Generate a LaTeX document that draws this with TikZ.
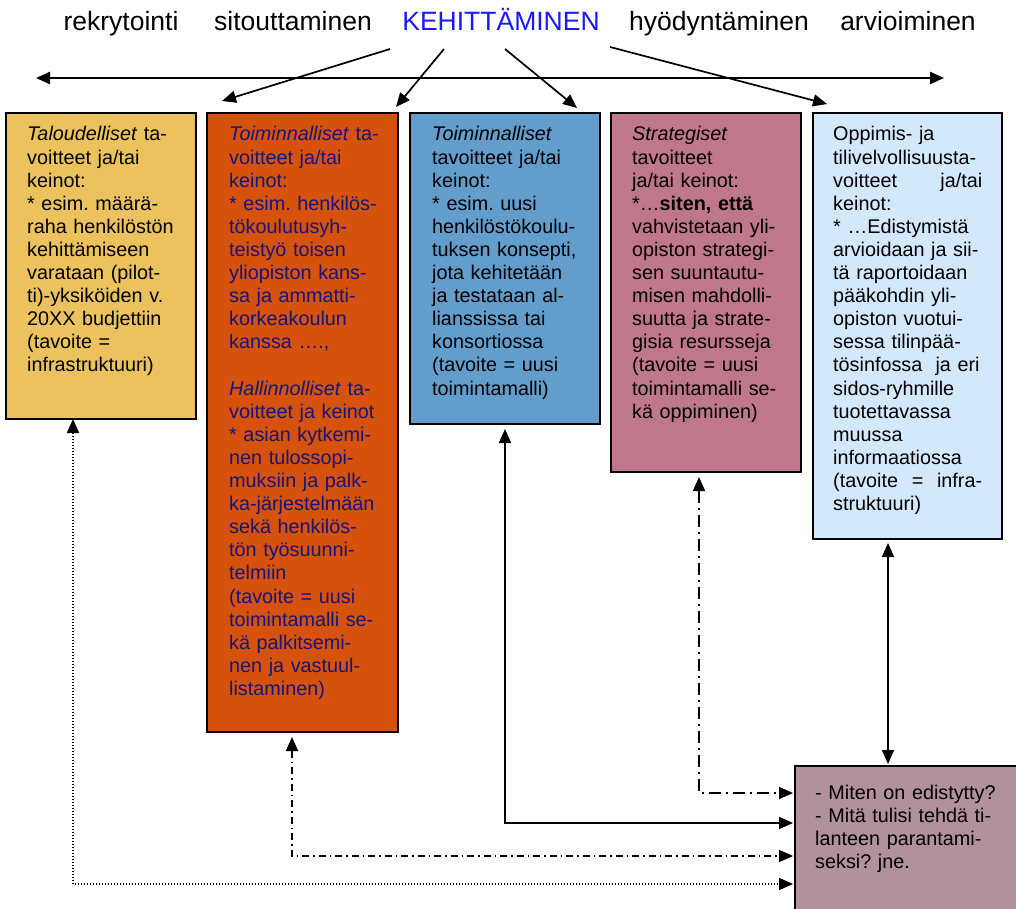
\documentclass[tikz,border=0pt]{standalone}
\usepackage{fontspec}
\setmainfont{Liberation Sans}
\usetikzlibrary{arrows.meta}
\definecolor{cYel}{RGB}{235,194,94}
\definecolor{cOra}{RGB}{214,81,9}
\definecolor{cBlu}{RGB}{98,157,204}
\definecolor{cMau}{RGB}{191,119,138}
\definecolor{cLbl}{RGB}{212,232,251}
\definecolor{cGry}{RGB}{177,145,158}
\definecolor{cNavy}{RGB}{22,22,125}
\definecolor{cHead}{RGB}{25,25,250}
\frenchspacing
\begin{document}
\begin{tikzpicture}[x=1pt,y=-1pt,
  box/.style={draw=black, line width=1.8pt, anchor=north west, inner sep=0pt, outer sep=0pt},
  txt/.style={anchor=base west, inner sep=0pt, align=left,
    font=\fontsize{19.8}{23.1}\selectfont,
    execute at begin node={\hyphenpenalty=10000 \exhyphenpenalty=10000 \frenchspacing}},
  head/.style={anchor=base, inner sep=0pt, font=\fontsize{26.5}{30}\selectfont},
  tipr/.style={-{Triangle[length=14pt,width=12pt]}, line width=1.7pt},
  both/.style={{Triangle[length=14pt,width=12pt]}-{Triangle[length=14pt,width=12pt]}, line width=1.7pt},
  dotc/.style={dash pattern=on 1.4pt off 1.6pt},
  dashdotA/.style={dash pattern=on 7pt off 4pt on 1.5pt off 4pt},
  dashdotB/.style={dash pattern=on 12pt off 5pt on 2pt off 5pt},
]
\useasboundingbox (0,0) rectangle (1016,909);

% header words
\node[head] (h1) at (121,31) {rekrytointi};
\node[head] (h2) at (293,31) {sitouttaminen};
\node[head, text=cHead] (kh) at (501,31) {KEHITTÄMINEN};
\node[head] (h4) at (719,31) {hyödyntäminen};
\node[head] (h5) at (908,31) {arvioiminen};

% horizontal double arrow
\coordinate (hl) at (36,78);
\coordinate (hr) at (944,78);
\draw[both, line width=2.4pt] (hl) -- (hr);

% arrows from KEHITTÄMINEN
\coordinate (a1s) at (390,49); \coordinate (a1e) at (222,101);
\coordinate (a2s) at (444,49); \coordinate (a2e) at (396,107);
\coordinate (a3s) at (505,49); \coordinate (a3e) at (577,108);
\coordinate (a4s) at (610,47); \coordinate (a4e) at (827,104);
\draw[tipr] (a1s) -- (a1e);
\draw[tipr] (a2s) -- (a2e);
\draw[tipr] (a3s) -- (a3e);
\draw[tipr] (a4s) -- (a4e);

% boxes
\node[box, fill=cYel, minimum width=190pt, minimum height=306pt] (b1) at (6,113) {};
\node[box, fill=cOra, minimum width=191pt, minimum height=619pt] (b2) at (207,113) {};
\node[box, fill=cBlu, minimum width=190pt, minimum height=311pt] (b3) at (410,113) {};
\node[box, fill=cMau, minimum width=190pt, minimum height=359pt] (b4) at (611,113) {};
\node[box, fill=cLbl, minimum width=189pt, minimum height=426pt] (b5) at (813,113) {};
\node[box, fill=cGry, minimum width=240pt, minimum height=160pt] (b6) at (795,766) {};

% texts
\node[txt, text width=170pt] (t1) at (27,141) {\textit{Taloudelliset} ta-\\
voitteet ja/tai\\
keinot:\\
{*} esim. määrä-\\
raha henkilöstön\\
kehittämiseen\\
varataan (pilot-\\
ti)-yksiköiden v.\\
20XX budjettiin\\
(tavoite =\\
infrastruktuuri)};

\node[txt, text width=170pt, text=cNavy] (t2) at (229,141) {\textit{Toiminnalliset} ta-\\
voitteet ja/tai\\
keinot:\\
{*} esim. henkilös-\\
tökoulutusyh-\\
teistyö toisen\\
yliopiston kans-\\
sa ja ammatti-\\
korkeakoulun\\
kanssa ….,\\
~\\
\textit{Hallinnolliset} ta-\\
voitteet ja keinot\\
{*} asian kytkemi-\\
nen tulossopi-\\
muksiin ja palk-\\
ka-järjestelmään\\
sekä henkilös-\\
tön työsuunni-\\
telmiin\\
(tavoite = uusi\\
toimintamalli se-\\
kä palkitsemi-\\
nen ja vastuul-\\
listaminen)};

\node[txt, text width=168pt] (t3) at (432,141) {\textit{Toiminnalliset}\\
tavoitteet ja/tai\\
keinot:\\
{*} esim. uusi\\
henkilöstökoulu-\\
tuksen konsepti,\\
jota kehitetään\\
ja testataan al-\\
lianssissa tai\\
konsortiossa\\
(tavoite = uusi\\
toimintamalli)};

\node[txt, text width=170pt] (t4) at (632,141) {\textit{Strategiset}\\
tavoitteet\\
ja/tai keinot:\\
{*}…\textbf{siten, että}\\
vahvistetaan yli-\\
opiston strategi-\\
sen suuntautu-\\
misen mahdolli-\\
suutta ja strate-\\
gisia resursseja\\
(tavoite = uusi\\
toimintamalli se-\\
kä oppiminen)};

\node[txt, text width=149pt] (t5) at (833,141) {Oppimis- ja\\
tilivelvollisuusta-\\
voitteet\hfill ja/tai\\
keinot:\\
{*} …Edistymistä\\
arvioidaan ja sii-\\
tä raportoidaan\\
pääkohdin yli-\\
opiston vuotui-\\
sessa tilinpää-\\
tösinfossa\ \ ja eri\\
sidos-ryhmille\\
tuotettavassa\\
muussa\\
informaatiossa\\
(tavoite\hfill =\hfill infra-\\
struktuuri)};

\node[txt, text width=190pt] (t6) at (815,799) {- Miten on edistytty?\\
- Mitä tulisi tehdä ti-\\
lanteen parantami-\\
seksi? jne.};

% bottom connectors
\coordinate (k1) at (73,884);
\coordinate (k2) at (292,856);
\coordinate (k3) at (505,823);
\coordinate (k4) at (699,793);

\draw[both, dotc] (b1.south -| k1) -- (k1) -- ([xshift=-2pt]b6.west |- k1);
\draw[both, dashdotA] ([yshift=-5pt]b2.south -| k2) -- (k2) -- ([xshift=-2pt]b6.west |- k2);
\draw[both] ([yshift=-5pt]b3.south -| k3) -- (k3) -- ([xshift=-2pt]b6.west |- k3);
\draw[both, dashdotB] ([yshift=-5pt]b4.south -| k4) -- (k4) -- ([xshift=-2pt]b6.west |- k4);

\coordinate (k5) at (888,700);
\draw[both] ([yshift=-4pt]b5.south -| k5) -- ([yshift=2pt]b6.north -| k5);
\end{tikzpicture}
\end{document}
